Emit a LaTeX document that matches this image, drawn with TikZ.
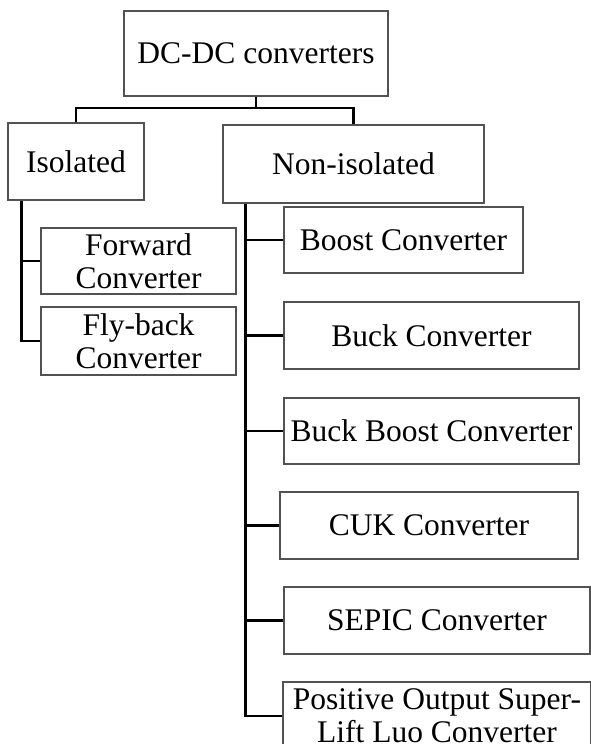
\documentclass[tikz,border=0pt]{standalone}
\usepackage{fontspec}
\setmainfont{Liberation Serif}
\begin{document}
\begin{tikzpicture}[x=1pt,y=-1pt,
  box/.style={draw=black!68,line width=1.1pt,inner sep=0pt,align=center,
    font=\fontsize{31.5}{33}\selectfont},
  conn/.style={draw=black,line width=2.6pt}]
\useasboundingbox (0,0) rectangle (591,744);
\clip (0,0) rectangle (591,744);
\node[box,minimum width=264,minimum height=85] (top) at (256,53.5) {DC-DC converters};
\node[box,minimum width=136,minimum height=77] (iso) at (76,161.5) {Isolated};
\node[box,minimum width=261,minimum height=78] (non) at (353.5,164) {Non-isolated};
\node[box,minimum width=195,minimum height=66] (fwd) at (138.5,261) {Forward\\Converter};
\node[box,minimum width=195,minimum height=68] (fly) at (138.5,341) {Fly-back\\Converter};
\node[box,minimum width=239,minimum height=66] (boost) at (403.5,240) {Boost Converter};
\node[box,minimum width=295,minimum height=67] (buck) at (431.5,335.5) {Buck Converter};
\node[box,minimum width=295,minimum height=66] (bb) at (431.5,431) {Buck Boost Converter};
\node[box,minimum width=298,minimum height=67] (cuk) at (429,525.5) {CUK Converter};
\node[box,minimum width=306,minimum height=67] (sepic) at (437,620.5) {SEPIC Converter};
\node[box,minimum width=308,minimum height=68] (pos) at (437,716) {Positive Output Super-\\Lift Luo Converter};
% connectors
\coordinate (j) at (256,108);
\draw[conn] (top.south) -- (j);
\draw[conn] (j) -| (iso.north);
\draw[conn] (j) -| (non.north);
\coordinate (lt) at ([xshift=14pt]iso.south west);
\draw[conn] (lt) |- (fly.west);
\draw[conn] (lt |- fwd.west) -- (fwd.west);
\coordinate (rt) at ([xshift=23pt]non.south west);
\draw[conn] (rt) |- (pos.west);
\draw[conn] (rt |- boost.west) -- (boost.west);
\draw[conn] (rt |- buck.west) -- (buck.west);
\draw[conn] (rt |- bb.west) -- (bb.west);
\draw[conn] (rt |- cuk.west) -- (cuk.west);
\draw[conn] (rt |- sepic.west) -- (sepic.west);
\end{tikzpicture}
\end{document}
